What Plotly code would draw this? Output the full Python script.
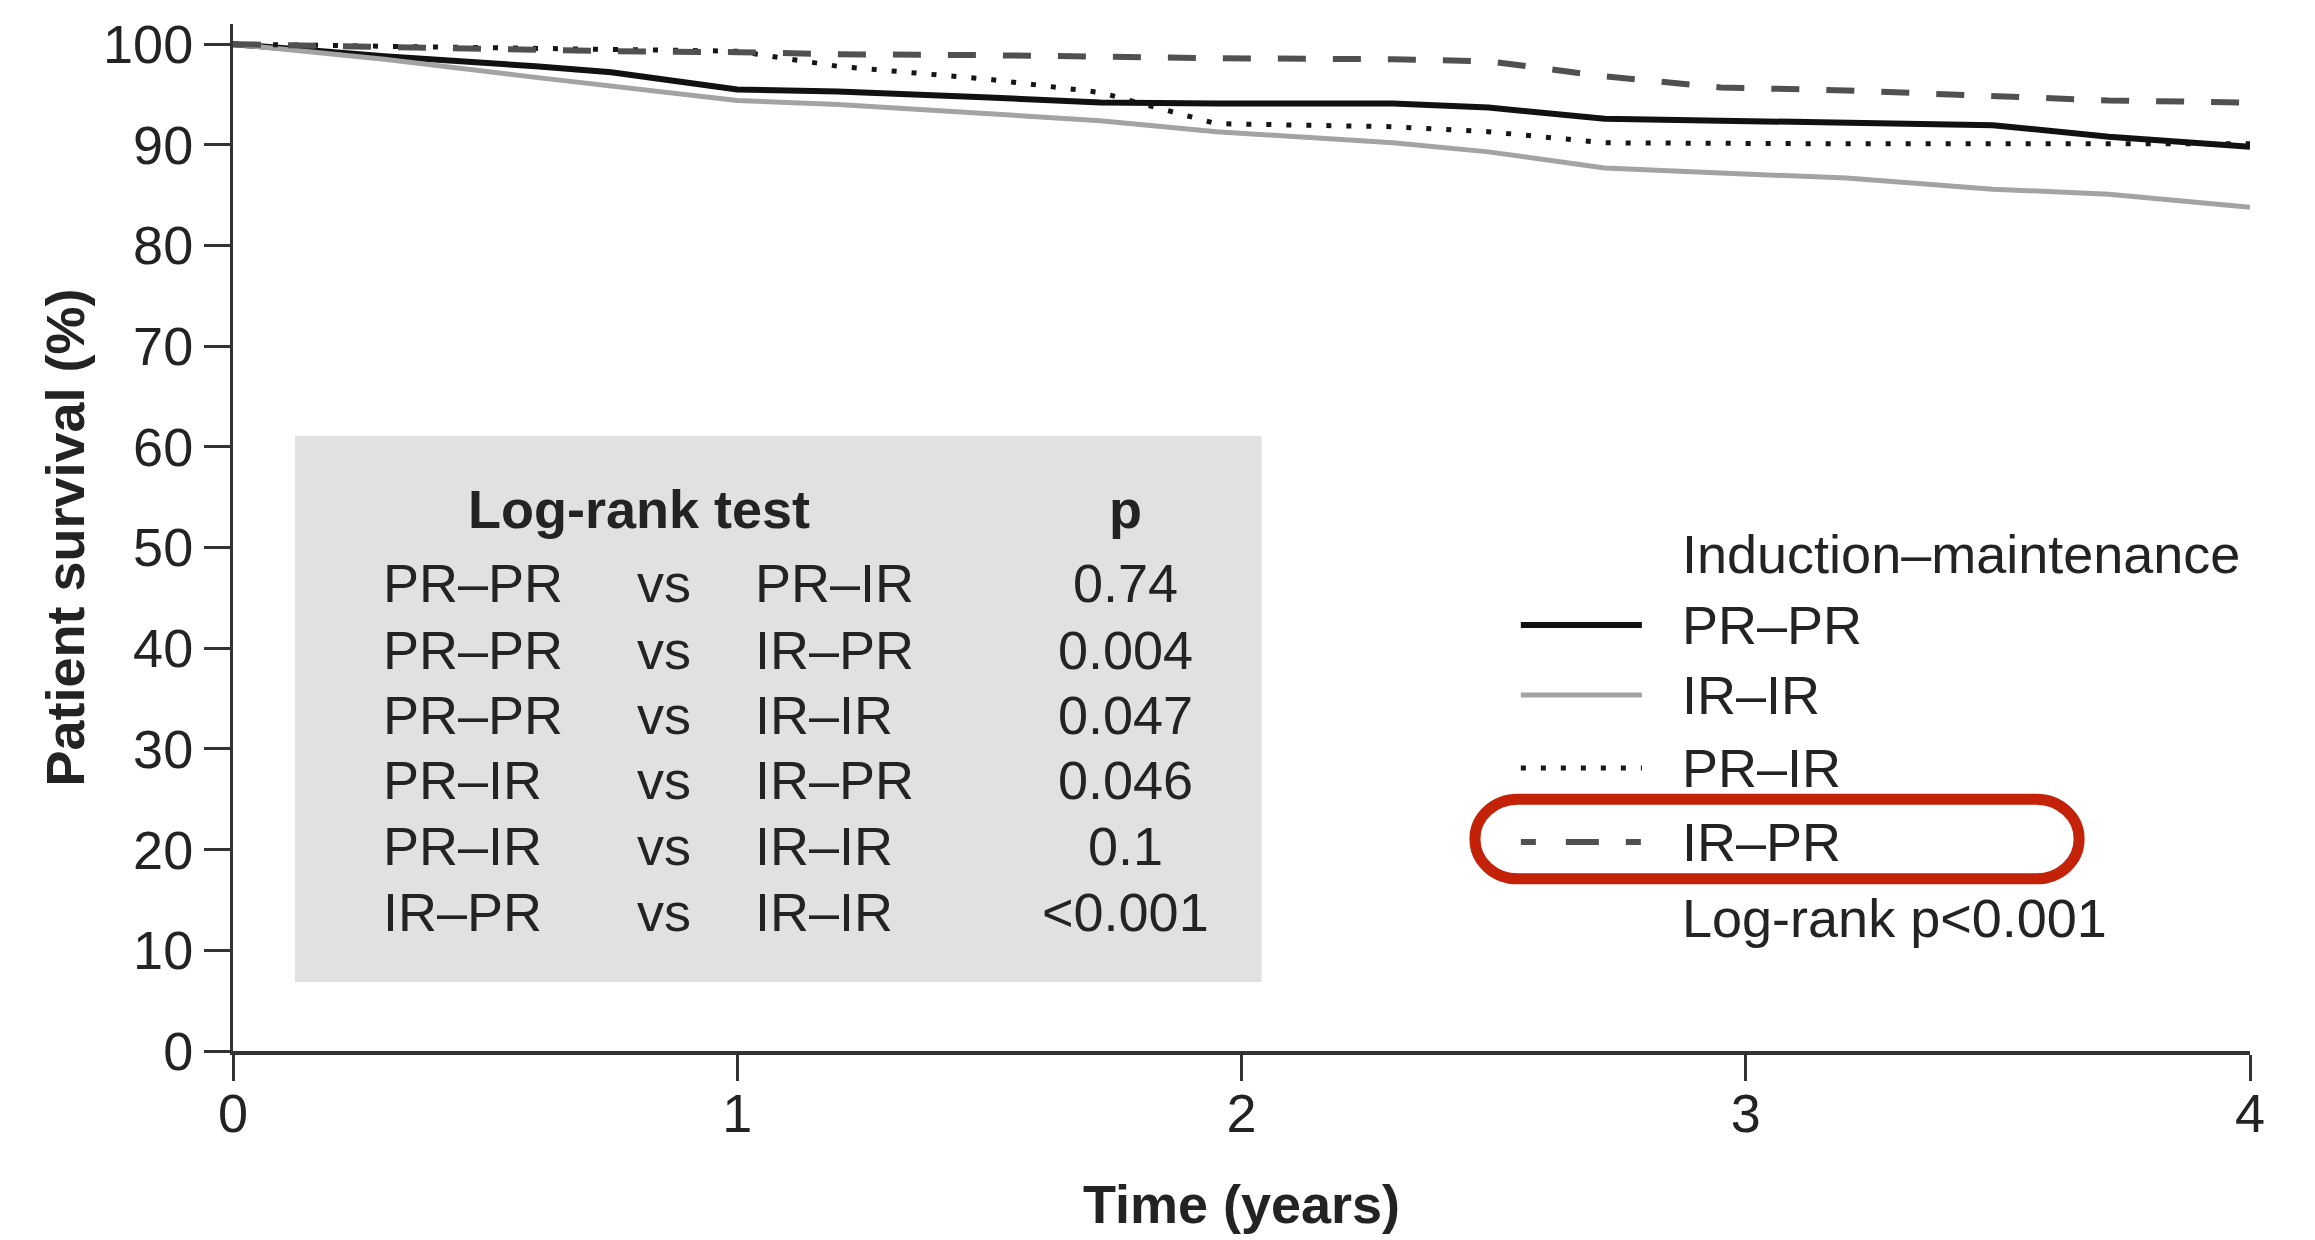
import plotly.graph_objects as go

# ---- data ----
time_years = [0, 0.3, 0.6, 0.75, 1.0, 1.2, 1.5, 1.72, 1.95, 2.3, 2.49, 2.72, 2.95, 3.2, 3.49, 3.72, 4.0]
pr_pr = [100, 98.8, 97.8, 97.2, 95.5, 95.3, 94.7, 94.2, 94.1, 94.1, 93.7, 92.6, 92.4, 92.2, 91.95, 90.8, 89.8]
ir_ir = [100, 98.5, 96.7, 95.8, 94.4, 94.0, 93.1, 92.4, 91.3, 90.2, 89.3, 87.7, 87.2, 86.7, 85.6, 85.1, 83.8]
pr_ir = [100, 99.8, 99.6, 99.5, 99.3, 97.8, 96.5, 95.2, 92.1, 91.8, 91.3, 90.2, 90.1, 90.1, 90.1, 90.1, 90.1]
ir_pr = [100, 99.7, 99.4, 99.3, 99.2, 99.0, 98.9, 98.7, 98.6, 98.5, 98.3, 96.8, 95.7, 95.4, 94.8, 94.4, 94.2]

x_ticks = [0, 1, 2, 3, 4]
y_ticks = [0, 10, 20, 30, 40, 50, 60, 70, 80, 90, 100]

table_header = ["Log-rank test", "p"]
table_group_a = ["PR–PR", "PR–PR", "PR–PR", "PR–IR", "PR–IR", "IR–PR"]
table_group_b = ["PR–IR", "IR–PR", "IR–IR", "IR–PR", "IR–IR", "IR–IR"]
table_p = ["0.74", "0.004", "0.047", "0.046", "0.1", "<0.001"]

legend_title = "Induction–maintenance"
legend_note = "Log-rank p<0.001"

FONT = "Liberation Sans, Arial, sans-serif"
TXT = "#232323"
FS = 54

series = [
    ("PR–PR", pr_pr, dict(color="#111111", width=6, dash="solid")),
    ("IR–IR", ir_ir, dict(color="#a3a3a3", width=5, dash="solid")),
    ("PR–IR", pr_ir, dict(color="#151515", width=5, dash="5px,15px")),
    ("IR–PR", ir_pr, dict(color="#505050", width=6, dash="28px,27px")),
]
legend_dash = {"IR–PR": "15px,30px,33px,27px"}

fig = go.Figure()
for name, vals, ln in series:
    fig.add_trace(go.Scatter(x=time_years, y=vals, mode="lines", name=name, line=ln))

shapes = []
annotations = []

# grey log-rank table box
shapes.append(dict(type="rect", xref="x", yref="y", x0=0.123, x1=2.04, y0=6.85, y1=61.1,
                   fillcolor="#e1e1e1", line=dict(width=0), layer="below"))

annotations.append(dict(x=0.805, y=53.8, text="<b>%s</b>" % table_header[0], showarrow=False,
                        xanchor="center", yanchor="middle", font=dict(size=FS, color=TXT)))
annotations.append(dict(x=1.769, y=53.8, text="<b>%s</b>" % table_header[1], showarrow=False,
                        xanchor="center", yanchor="middle", font=dict(size=FS, color=TXT)))
row_y = [46.5, 39.8, 33.4, 26.9, 20.4, 13.8]
for i in range(len(table_p)):
    annotations.append(dict(x=0.293, y=row_y[i], text=table_group_a[i], showarrow=False,
                            xanchor="left", yanchor="middle", font=dict(size=FS, color=TXT)))
    annotations.append(dict(x=0.855, y=row_y[i], text="vs", showarrow=False,
                            xanchor="center", yanchor="middle", font=dict(size=FS, color=TXT)))
    annotations.append(dict(x=1.031, y=row_y[i], text=table_group_b[i], showarrow=False,
                            xanchor="left", yanchor="middle", font=dict(size=FS, color=TXT)))
    annotations.append(dict(x=1.769, y=row_y[i], text=table_p[i], showarrow=False,
                            xanchor="center", yanchor="middle", font=dict(size=FS, color=TXT)))

# manual legend
leg_x0, leg_x1, leg_tx = 2.554, 2.794, 2.870
annotations.append(dict(x=leg_tx, y=49.35, text=legend_title, showarrow=False,
                        xanchor="left", yanchor="middle", font=dict(size=FS, color=TXT)))
leg_y = [42.3, 35.35, 28.1, 20.75]
for (name, vals, ln), yy in zip(series, leg_y):
    shapes.append(dict(type="line", xref="x", yref="y", x0=leg_x0, x1=leg_x1, y0=yy, y1=yy,
                       line=dict(color=ln["color"], width=ln["width"],
                                 dash=legend_dash.get(name, ln["dash"]))))
    annotations.append(dict(x=leg_tx, y=yy, text=name, showarrow=False,
                            xanchor="left", yanchor="middle", font=dict(size=FS, color=TXT)))
annotations.append(dict(x=leg_tx, y=13.2, text=legend_note, showarrow=False,
                        xanchor="left", yanchor="middle", font=dict(size=FS, color=TXT)))

# red rounded highlight box around IR–PR legend entry
bx0, bx1, by0, by1 = 2.463, 3.661, 17.1, 25.0
rx, ry = 0.085, 3.9
k = 0.5523
path = (f"M {bx0+rx},{by1} L {bx1-rx},{by1} "
        f"C {bx1-rx+k*rx},{by1} {bx1},{by1-ry+k*ry} {bx1},{by1-ry} "
        f"L {bx1},{by0+ry} "
        f"C {bx1},{by0+ry-k*ry} {bx1-rx+k*rx},{by0} {bx1-rx},{by0} "
        f"L {bx0+rx},{by0} "
        f"C {bx0+rx-k*rx},{by0} {bx0},{by0+ry-k*ry} {bx0},{by0+ry} "
        f"L {bx0},{by1-ry} "
        f"C {bx0},{by1-ry+k*ry} {bx0+rx-k*rx},{by1} {bx0+rx},{by1} Z")
shapes.append(dict(type="path", xref="x", yref="y", path=path,
                   line=dict(color="#c42208", width=11), fillcolor="rgba(0,0,0,0)"))

fig.update_layout(
    width=2315, height=1240,
    margin=dict(l=233, r=65, t=24, b=189),
    plot_bgcolor="white", paper_bgcolor="white",
    showlegend=False,
    font=dict(family=FONT, size=FS, color=TXT),
    shapes=shapes, annotations=annotations,
    xaxis=dict(range=[0, 4], tickvals=x_ticks, ticktext=[str(v) for v in x_ticks],
               ticks="outside", ticklen=26, tickwidth=2.5, tickcolor="#333",
               ticklabelstandoff=-14,
               showline=True, linecolor="#333", linewidth=4, showgrid=False, zeroline=False,
               tickfont=dict(size=FS, color=TXT),
               title=dict(text="Time (years)", font=dict(size=FS, color=TXT, weight="bold"), standoff=44)),
    yaxis=dict(range=[0, 102], tickvals=y_ticks, ticktext=[str(v) for v in y_ticks],
               ticks="outside", ticklen=26, tickwidth=2.5, tickcolor="#333",
               showline=True, linecolor="#333", linewidth=3, showgrid=False, zeroline=False,
               tickfont=dict(size=FS, color=TXT),
               title=dict(text="Patient survival (%)", font=dict(size=FS, color=TXT, weight="bold"), standoff=2)),
)

fig.write_html("out.html")
